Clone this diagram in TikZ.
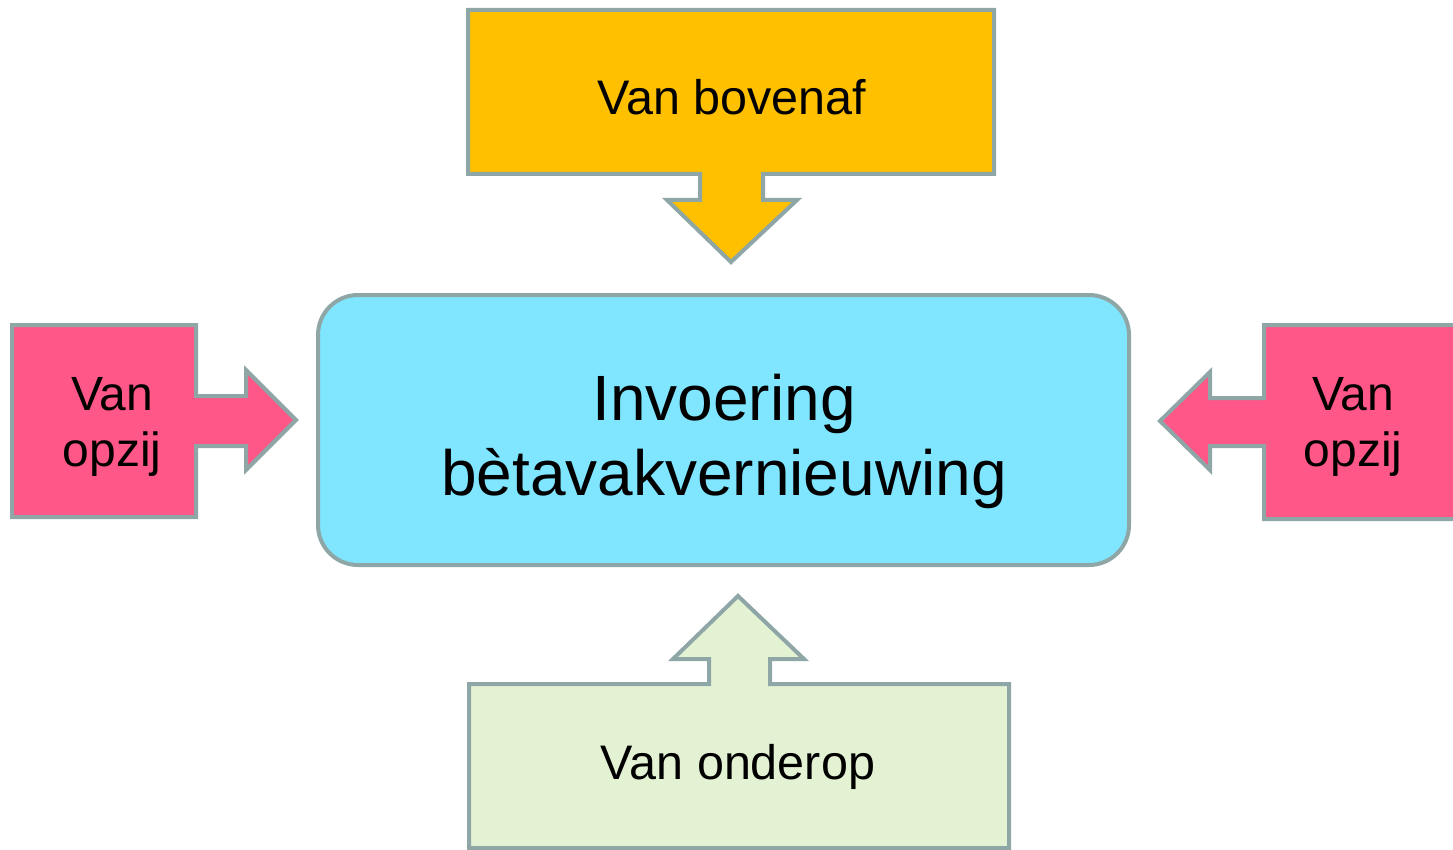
\documentclass[tikz,border=0pt]{standalone}
\usepackage{fontspec}
\setmainfont{Liberation Sans}
\definecolor{edgegray}{RGB}{143,166,166}
\definecolor{topfill}{RGB}{255,192,0}
\definecolor{midfill}{RGB}{128,229,255}
\definecolor{sidefill}{RGB}{255,87,135}
\definecolor{botfill}{RGB}{228,242,212}
\begin{document}
\begin{tikzpicture}[x=1pt,y=-1pt,
  shapeline/.style={draw=edgegray,line width=4pt,line join=miter},
  lbl/.style={align=center,inner sep=0pt,text=black}]
\useasboundingbox (0,0) rectangle (1453,850);
% top arrow box
\path[shapeline,fill=topfill] (468,10) -- (994,10) -- (994,174) -- (763,174) -- (763,200) -- (797,200)
  -- (731,262) -- (667,200) -- (700,200) -- (700,174) -- (468,174) -- cycle;
\node[lbl,font=\fontsize{48.5}{58}\selectfont] (top) at (732,97) {Van bovenaf};
% centre box
\node[shapeline,fill=midfill,rounded corners=40pt,minimum width=811pt,minimum height=270pt,
  inner sep=0pt] (mid) at (723.5,430) {};
\node[lbl,font=\fontsize{64}{75}\selectfont] (midtext) at (724,441) {Invoering\\bètavakvernieuwing};
% left arrow box
\path[shapeline,fill=sidefill] (12,325) -- (196,325) -- (196,396) -- (246,396) -- (246,370) -- (296,420)
  -- (246,470) -- (246,446) -- (196,446) -- (196,517) -- (12,517) -- cycle;
\node[lbl,font=\fontsize{48}{56}\selectfont] (left) at (112,427) {Van\\opzij};
% right arrow box
\path[shapeline,fill=sidefill] (1470,325) -- (1264,325) -- (1264,398) -- (1210,398) -- (1210,372) -- (1160,421)
  -- (1210,470) -- (1210,446) -- (1264,446) -- (1264,519) -- (1470,519) -- cycle;
\node[lbl,font=\fontsize{48}{56}\selectfont] (right) at (1353,427) {Van\\opzij};
% bottom arrow box
\path[shapeline,fill=botfill] (469,848) -- (469,684) -- (709,684) -- (709,659) -- (673,659) -- (738,596)
  -- (804,659) -- (770,659) -- (770,684) -- (1009,684) -- (1009,848) -- cycle;
\node[lbl,font=\fontsize{48.5}{58}\selectfont] (bot) at (738,767) {Van onderop};
\end{tikzpicture}
\end{document}
